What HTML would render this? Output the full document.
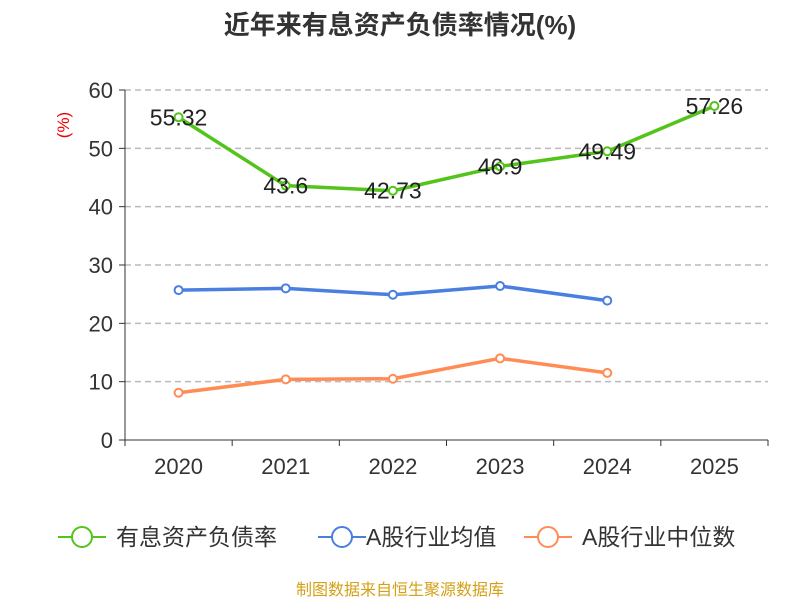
<!DOCTYPE html>
<html><head><meta charset="utf-8"><style>
body{margin:0;background:#fff;}
svg text{font-family:"Liberation Sans","Noto Sans CJK SC",sans-serif;}
</style></head><body>
<svg id="chart" width="800" height="600" xmlns="http://www.w3.org/2000/svg">
<text x="400" y="34" text-anchor="middle" font-size="26" font-weight="bold" fill="#333">近年来有息资产负债率情况(%)</text>
<text transform="translate(69,125) rotate(-90)" text-anchor="middle" font-size="17" fill="#e00">(%)</text>
<g id="grid"></g><g id="axes"></g><g id="series"></g>
<g>
<g><line x1="58" y1="537" x2="106" y2="537" stroke="#52c41a" stroke-width="2"/><circle cx="82" cy="537" r="10" fill="#fff" stroke="#52c41a" stroke-width="2"/><text x="116" y="545" font-size="23" fill="#333">有息资产负债率</text></g>
<g><line x1="318" y1="537" x2="366" y2="537" stroke="#4a7fe0" stroke-width="2"/><circle cx="342" cy="537" r="10" fill="#fff" stroke="#4a7fe0" stroke-width="2"/><text x="366" y="545" font-size="23" fill="#333">A股行业均值</text></g>
<g><line x1="524" y1="537" x2="572" y2="537" stroke="#ff8c55" stroke-width="2"/><circle cx="548" cy="537" r="10" fill="#fff" stroke="#ff8c55" stroke-width="2"/><text x="582" y="545" font-size="23" fill="#333">A股行业中位数</text></g>
</g>
<text x="400" y="595" text-anchor="middle" font-size="16" fill="#d4a017">制图数据来自恒生聚源数据库</text>
</svg>
<script>
const categories=["2020","2021","2022","2023","2024","2025"];
const debtRatio=[55.32,43.6,42.73,46.9,49.49,57.26];
const industryMean=[25.7,26.0,24.9,26.4,23.9];
const industryMedian=[8.1,10.4,10.5,14.0,11.5];
const yTicks=[0,10,20,30,40,50,60];
const NS="http://www.w3.org/2000/svg";
const x0=125,x1=768,yb=440,yt=90;
const band=(x1-x0)/categories.length;
function xs(i){return x0+band*(i+0.5);}
function ys(v){return yb-(v/60)*(yb-yt);}
function mk(p,tag,a){const e=document.createElementNS(NS,tag);for(const k in a)e.setAttribute(k,a[k]);p.appendChild(e);return e;}
const grid=document.getElementById('grid'),axes=document.getElementById('axes'),ser=document.getElementById('series');
yTicks.forEach(t=>{
  const y=ys(t);
  if(t>0){const g=mk(grid,'line',{x1:x0,x2:x1,y1:y,y2:y,stroke:'#bbb','stroke-width':1.5,'stroke-dasharray':'6,4'});
  
  }
  mk(axes,'line',{x1:x0-6,x2:x0,y1:y,y2:y,stroke:'#333'});
  const tx=mk(axes,'text',{x:x0-12,y:y+8,'text-anchor':'end','font-size':22,fill:'#333'});tx.textContent=t;
  
  
});
mk(axes,'line',{x1:x0,x2:x0,y1:yt,y2:yb,stroke:'#333'});
mk(axes,'line',{x1:x0,x2:x1,y1:yb,y2:yb,stroke:'#333'});
for(let i=0;i<=categories.length;i++){const x=x0+band*i;mk(axes,'line',{x1:x,x2:x,y1:yb,y2:yb+6,stroke:'#333'});}
categories.forEach((c,i)=>{const t=mk(axes,'text',{x:xs(i),y:yb+34,'text-anchor':'middle','font-size':22,fill:'#333'});t.textContent=c;
  
  });
function draw(data,color,name,labels){
  const pts=data.map((v,i)=>xs(i)+','+ys(v)).join(' ');
  const l=mk(ser,'polyline',{points:pts,fill:'none',stroke:color,'stroke-width':3.5,'stroke-linejoin':'round'});
  
  
  data.forEach((v,i)=>{const c=mk(ser,'circle',{cx:xs(i),cy:ys(v),r:4,fill:'#fff',stroke:color,'stroke-width':2});
    
    
    if(labels){const t=mk(ser,'text',{x:xs(i),y:ys(v)+8,'text-anchor':'middle','font-size':23,fill:'#222'});t.textContent=v;
      
      }
  });
}
draw(industryMean,'#4a7fe0','industry-mean',false);
draw(industryMedian,'#ff8c55','industry-median',false);
draw(debtRatio,'#52c41a','debt-ratio',true);
</script>
</body></html>
